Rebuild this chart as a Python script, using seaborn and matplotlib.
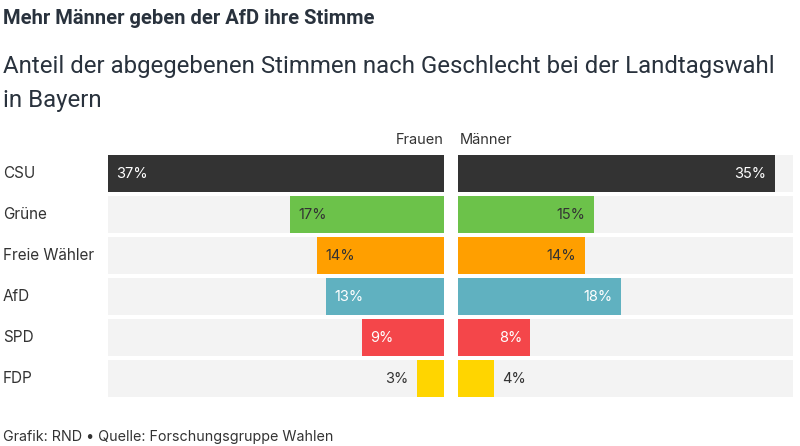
import numpy as np
import pandas as pd
import seaborn as sns
import matplotlib.pyplot as plt
from matplotlib.transforms import blended_transform_factory

# data
parteien = ['CSU', 'Grüne', 'Freie Wähler', 'AfD', 'SPD', 'FDP']
frauen = [37, 17, 14, 13, 9, 3]
maenner = [35, 15, 14, 18, 8, 4]
farben = ['#333333', '#6cc24a', '#ff9f00', '#60b1c0', '#f4464a', '#ffd500']
label_farben = ['white', '#333333', '#333333', 'white', 'white', '#333333']

sns.set_theme(style='white')
plt.rcParams['font.family'] = ['Inter', 'DejaVu Sans']

df = pd.DataFrame({'partei': parteien, 'Frauen': frauen, 'Männer': maenner})
df['hinten'] = 37

fig = plt.figure(figsize=(8, 4.46), dpi=100)
W, H = 800, 446

def fx(px):
    return px / W

def fy(px):
    return 1 - px / H

top, bottom = 153, 399.5
axl = fig.add_axes([fx(108), fy(bottom), fx(444 - 108), (bottom - top) / H])
axr = fig.add_axes([fx(458), fy(bottom), fx(793 - 458), (bottom - top) / H])

for ax, col, inv in [(axl, 'Frauen', True), (axr, 'Männer', False)]:
    sns.barplot(data=df, x='hinten', y='partei', color='#f3f3f3', width=0.9,
                orient='h', ax=ax, linewidth=0, saturation=1)
    sns.barplot(data=df, x=col, y='partei', hue='partei', palette=farben, saturation=1,
                width=0.9, orient='h', ax=ax, legend=False, linewidth=0)
    ax.set_xlim(0, 37)
    ax.set_ylim(5.5, -0.5)
    if inv:
        ax.invert_xaxis()
    ax.axis('off')
    sign = 1 if inv else -1
    for i, v in enumerate(df[col]):
        if v < 5:
            # label outside the bar
            ax.annotate(f'{v}%', (v, i), xytext=(-6 * sign, 0), textcoords='offset points',
                        ha='right' if inv else 'left', va='center',
                        fontsize=10.5, color='#333333')
        else:
            ax.annotate(f'{v}%', (v, i), xytext=(6 * sign, 0), textcoords='offset points',
                        ha='left' if inv else 'right', va='center',
                        fontsize=10.5, color=label_farben[i])

# category labels
tr = blended_transform_factory(fig.transFigure, axl.transData)
for i, p in enumerate(parteien):
    fig.text(fx(3), i, p, transform=tr, ha='left', va='center', fontsize=11, color='#333333')

fig.text(fx(444), fy(140), 'Frauen', ha='right', va='center', fontsize=10.5, color='#333333')
fig.text(fx(460), fy(140), 'Männer', ha='left', va='center', fontsize=10.5, color='#333333')

fig.text(fx(3), fy(19), 'Mehr Männer geben der AfD ihre Stimme', ha='left', va='center',
         fontsize=14.5, fontweight='bold', color='#29323d', family=['Roboto', 'DejaVu Sans'])
fig.text(fx(3), fy(67), 'Anteil der abgegebenen Stimmen nach Geschlecht bei der Landtagswahl',
         ha='left', va='center', fontsize=17.3, color='#29323d', family=['Roboto', 'DejaVu Sans'])
fig.text(fx(3), fy(100), 'in Bayern', ha='left', va='center', fontsize=17.3, color='#29323d',
         family=['Roboto', 'DejaVu Sans'])
fig.text(fx(3), fy(437), 'Grafik: RND • Quelle: Forschungsgruppe Wahlen', ha='left', va='center',
         fontsize=10.3, color='#333333')

fig.savefig('out.png', dpi=100, facecolor='white')
